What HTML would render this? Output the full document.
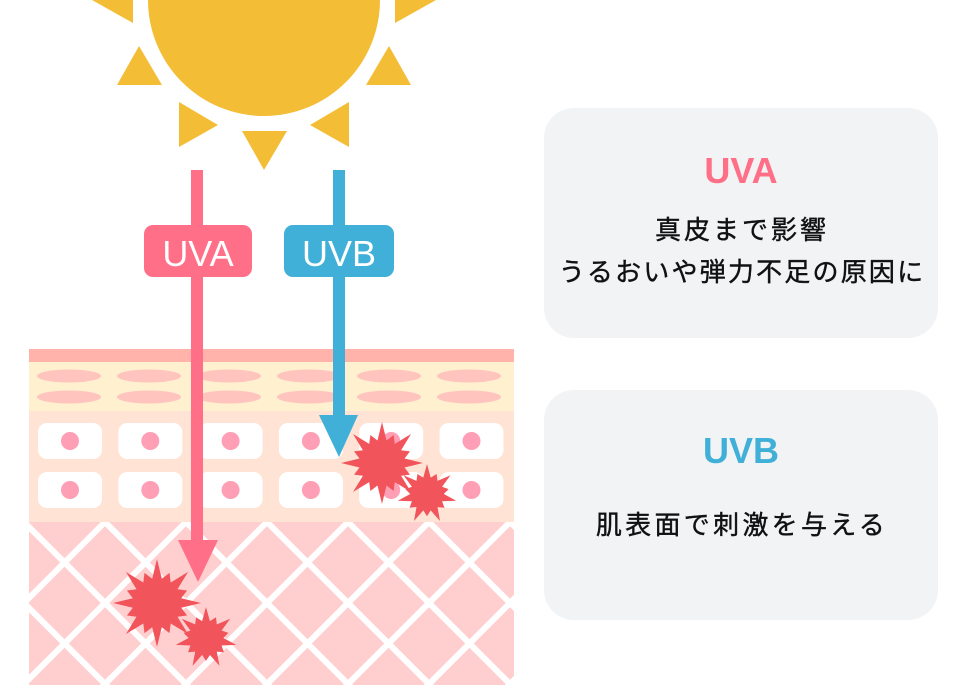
<!DOCTYPE html>
<html><head><meta charset="utf-8"><style>
html,body{margin:0;padding:0;background:#fff;width:960px;height:700px;overflow:hidden}
svg{display:block}
</style></head><body>
<svg id="s" width="960" height="700" viewBox="0 0 960 700" xmlns="http://www.w3.org/2000/svg">
<defs><clipPath id="dc"><rect x="29" y="522" width="485" height="163"/></clipPath></defs>
<g fill="#f3bd36">
<circle cx="264" cy="0" r="116"/>
<polygon points="242,131 287,131 264,170"/>
<polygon points="179,102 179,147 218,125"/>
<polygon points="349,102 349,147 310,125"/>
<polygon points="117,85 162,85 139,46"/>
<polygon points="411,85 366,85 389,46"/>
<polygon points="133,0 133,23 92,0"/>
<polygon points="395,0 395,23 436,0"/>
</g>
<rect x="29" y="349" width="485" height="13" fill="#ffb3ab"/>
<rect x="29" y="362" width="485" height="49" fill="#fff0d0"/>
<g fill="#ffc4be" id="ell"></g>
<rect x="29" y="411" width="485" height="111" fill="#ffe3d4"/>
<g id="cells"></g>
<rect x="29" y="522" width="485" height="163" fill="#ffcfcf"/>
<g clip-path="url(#dc)" stroke="#fff" stroke-width="6" id="grid"></g>
<rect x="191" y="170" width="12" height="372" fill="#ff7088"/>
<polygon points="178,540 218,540 198,582" fill="#ff7088"/>
<rect x="144" y="225" width="108" height="52" rx="9" fill="#ff7088"/>
<text x="198" y="266" font-family="Liberation Sans, sans-serif" font-size="36" fill="#fff" text-anchor="middle">UVA</text>
<rect x="333" y="170" width="12" height="247" fill="#41b0d8"/>
<polygon points="319,415 358,415 339,457" fill="#41b0d8"/>
<rect x="284" y="225" width="110" height="52" rx="9" fill="#41b0d8"/>
<text x="339" y="266" font-family="Liberation Sans, sans-serif" font-size="36" fill="#fff" text-anchor="middle">UVB</text>
<g id="stars" fill="#f2545b"></g>
<rect x="544" y="108" width="394" height="230" rx="30" fill="#f2f3f5"/>
<rect x="544" y="390" width="394" height="230" rx="30" fill="#f2f3f5"/>
<g font-family="Liberation Sans, 'Noto Sans CJK JP', sans-serif" text-anchor="middle">
<text x="741" y="183" font-size="36" font-weight="bold" fill="#ff7088">UVA</text>
<text x="742" y="239" font-size="26" fill="#111" letter-spacing="3" stroke="#111" stroke-width="0.4">真皮まで影響</text>
<text x="742" y="281" font-size="26" fill="#111" letter-spacing="2.2" stroke="#111" stroke-width="0.4">うるおいや弾力不足の原因に</text>
<text x="741" y="463" font-size="36" font-weight="bold" fill="#41b0d8">UVB</text>
<text x="742" y="534" font-size="26" fill="#111" letter-spacing="3.3" stroke="#111" stroke-width="0.4">肌表面で刺激を与える</text>
</g>
</svg>
<script>
var NS="http://www.w3.org/2000/svg";
function el(p,t,a){var e=document.createElementNS(NS,t);for(var k in a)e.setAttribute(k,a[k]);document.getElementById(p).appendChild(e);}
for(var i=0;i<6;i++){var cx=69+80*i;el("ell","ellipse",{cx:cx,cy:376,rx:32,ry:6.5});el("ell","ellipse",{cx:cx,cy:397,rx:32,ry:6.5});}
for(var i=0;i<6;i++){var x=38+80.3*i;[423,472].forEach(function(y){el("cells","rect",{x:x,y:y,width:64,height:36,rx:9,fill:"#fff"});el("cells","circle",{cx:x+32,cy:y+18,r:9,fill:"#ff9fb5"});});}
for(var k=-10;k<16;k++){var c=24+81*k;el("grid","line",{x1:c,y1:522,x2:c+200,y2:722});el("grid","line",{x1:c,y1:522,x2:c-200,y2:722});}
function star(cx,cy,R,n){var p=[];for(var i=0;i<n*2;i++){var a=i*Math.PI/n-Math.PI/2;var r=(i%2==0)?(i%4==0?R:R*0.74):R*0.56;p.push((cx+r*Math.cos(a)).toFixed(1)+","+(cy+r*Math.sin(a)).toFixed(1));}el("stars","polygon",{points:p.join(" ")});}
star(157,603,44,16);star(206,638,31,14);star(382,463,41,16);star(427,494,30,14);
</script>
</body></html>
